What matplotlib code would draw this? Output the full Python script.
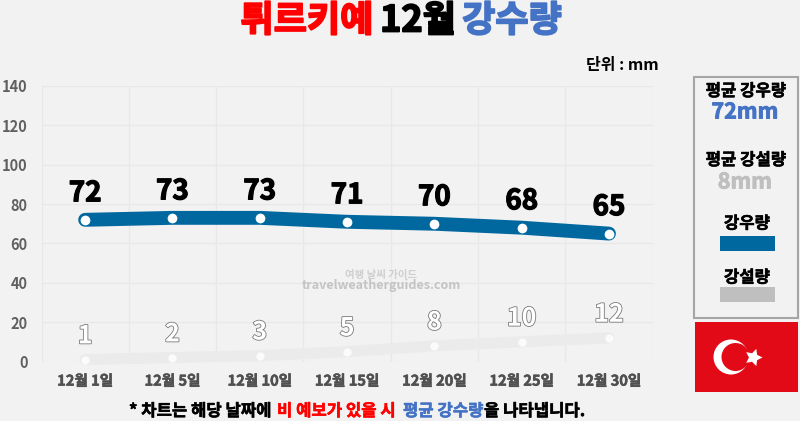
import matplotlib
matplotlib.use("Agg")
import matplotlib.pyplot as plt
import matplotlib.patheffects as pe
from matplotlib.patches import Rectangle, Circle
from matplotlib.markers import MarkerStyle

plt.rcParams['font.family'] = ['Noto Sans CJK KR', 'DejaVu Sans']

days = ['12월 1일', '12월 5일', '12월 10일', '12월 15일', '12월 20일', '12월 25일', '12월 30일']
rain = [72, 73, 73, 71, 70, 68, 65]
snow = [1, 2, 3, 5, 8, 10, 12]
yticks = [0, 20, 40, 60, 80, 100, 120, 140]

BG = '#f2f2f2'
BLUE = '#00689f'
W, H = 800, 421
fig = plt.figure(figsize=(W/100, H/100), dpi=100, facecolor=BG)

L, R, T, B = 41.5, 652.6, 86, 361.5
ax = fig.add_axes([L/W, 1-B/H, (R-L)/W, (B-T)/H], facecolor=BG)
ax.set_xlim(-0.5, 6.5)
ax.set_ylim(0, 140)
xs = list(range(len(days)))
for s in ax.spines.values():
    s.set_visible(False)
ax.set_xticks([x-0.5 for x in xs] + [6.5], minor=True)
ax.set_xticks(xs)
ax.set_xticklabels(days, fontsize=10.5, fontweight='bold', color='#505050',
                   path_effects=[pe.withStroke(linewidth=0.4, foreground='#505050')])
ax.set_yticks(yticks)
ax.set_yticklabels(yticks, fontsize=10.5, fontweight='bold', color='#606060')
ax.tick_params(axis='both', which='both', length=0)
ax.tick_params(axis='x', pad=8)
ax.tick_params(axis='y', pad=10)
ax.grid(True, axis='y', color='#e8e8e8', lw=0.9)
ax.grid(True, axis='x', which='minor', color='#e8e8e8', lw=0.9)
ax.grid(False, axis='x', which='major')
ax.set_axisbelow(True)

ax.plot(xs, snow, color='#ebebeb', lw=8, solid_capstyle='round', solid_joinstyle='round', clip_on=False, zorder=3)
ax.plot(xs, snow, ls='', marker='o', ms=6, mfc='#fbfbfb', mec='none', clip_on=False, zorder=4)
ax.plot(xs, rain, color=BLUE, lw=10, solid_capstyle='round', solid_joinstyle='round', zorder=3)
ax.plot(xs, rain, ls='', marker='o', ms=7, mfc='white', mec='none', zorder=4)

for x, v in zip(xs, rain):
    ax.annotate(str(v), (x, v), xytext=(0, 9), textcoords='offset points', ha='center', va='bottom',
                fontsize=20, fontweight='black', color='black', zorder=5,
                path_effects=[pe.withStroke(linewidth=0.9, foreground='black')])
for x, v in zip(xs, snow):
    ax.annotate(str(v), (x, v), xytext=(0, 8), textcoords='offset points', ha='center', va='bottom',
                fontsize=18, fontweight='bold', color='white', zorder=5,
                path_effects=[pe.withStroke(linewidth=1.2, foreground='#7a7a7a')])

# overlay in pixel coordinates for page furniture
ov = fig.add_axes([0, 0, 1, 1], facecolor='none')
ov.set_xlim(0, W)
ov.set_ylim(H, 0)
ov.axis('off')

def t(x, y, s, size, color='black', ha='center', weight='black', stroke=0.0, **kw):
    txt = ov.text(x, y, s, fontsize=size, color=color, ha=ha, va='center', fontweight=weight, **kw)
    if stroke:
        txt.set_path_effects([pe.withStroke(linewidth=stroke, foreground=color)])
    return txt

t(307, 21, '튀르키예', 26, '#ff0000', stroke=1.3)
t(418, 21, '12월', 26, 'black', stroke=1.3)
t(512, 21, '강수량', 26, '#4472c4', stroke=1.3)
t(622.5, 65, '단위 : mm', 11.5, 'black', weight='bold')

t(381, 275, '여행 날씨 가이드', 7.5, '#cfcfcf', weight='bold')
t(381, 286, 'travelweatherguides.com', 9, '#c4c4c4', weight='bold')

# footnote
t(129, 411, '* 차트는 해당 날짜에', 12, 'black', ha='left', stroke=0.4)
t(277, 411, '비 예보가 있을 시', 12, '#ff0000', ha='left', stroke=0.4)
t(403, 411, '평균 강수량', 12, '#4472c4', ha='left', stroke=0.4)
t(484, 411, '을 나타냅니다.', 12, 'black', ha='left', stroke=0.4)

# legend panel
ov.add_patch(Rectangle((694, 77), 104, 241, fc='none', ec='#a6a6a6', lw=1.5))
t(746, 91, '평균 강우량', 12, stroke=0.4)
t(745, 112, '72mm', 15.5, '#4472c4', stroke=0.6)
t(746, 160, '평균 강설량', 12, stroke=0.4)
t(745, 182, '8mm', 15.5, '#bfbfbf', stroke=0.6)
t(747, 223.5, '강우량', 12, stroke=0.4)
ov.add_patch(Rectangle((720, 236), 55, 15, fc=BLUE, ec='none'))
t(747, 277.5, '강설량', 12, stroke=0.4)
ov.add_patch(Rectangle((720, 287), 55, 15, fc='#bfbfbf', ec='none'))

# flag
RED = '#e30a17'
ov.add_patch(Rectangle((694.5, 322), 103.5, 70, fc=RED, ec='none'))
ov.add_patch(Circle((731, 357), 17.5, fc='white', ec='none'))
ov.add_patch(Circle((735.5, 357), 14, fc=RED, ec='none'))
ov.plot([753], [357], marker=MarkerStyle((5, 1, -90)), ms=13, mfc='white', mec='none', ls='')

fig.savefig('out.png', dpi=100, facecolor=BG)
